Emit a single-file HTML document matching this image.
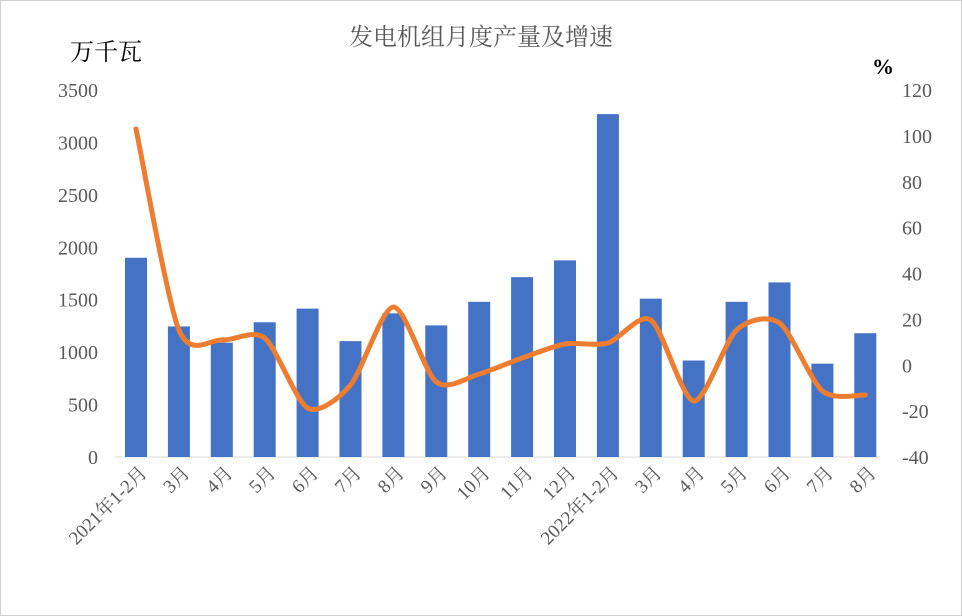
<!DOCTYPE html>
<html><head><meta charset="utf-8"><style>
html,body{margin:0;padding:0;background:#fff;}
svg{display:block;}
text{font-family:"Liberation Serif","Noto Serif CJK SC","Noto Sans CJK SC",serif;}
</style></head><body>
<svg id="s" width="962" height="616" xmlns="http://www.w3.org/2000/svg">
<rect x="0.5" y="0.5" width="961" height="615" fill="#fff" stroke="#d0d0d0"/>
<text x="481" y="45" font-size="24" fill="#595959" text-anchor="middle">发电机组月度产量及增速</text>
<text x="70" y="60" font-size="24" fill="#000">万千瓦</text>
<text x="872" y="74" font-size="22" font-weight="bold" fill="#000">%</text>
<line x1="115" y1="457" x2="880" y2="457" stroke="#d9d9d9"/>
<g id="g"></g>
</svg>
<script>
var ns="http://www.w3.org/2000/svg",g=document.getElementById('g');
function el(t,a,txt){var e=document.createElementNS(ns,t);for(var k in a)e.setAttribute(k,a[k]);if(txt!=null)e.textContent=txt;g.appendChild(e);return e;}
for(var i=0;i<=7;i++){var y=457-i*52.43;el('text',{x:98,y:y+7,'font-size':20,fill:'#595959','text-anchor':'end'},i*500);}
for(var i=0;i<=8;i++){var y=457-i*45.875;el('text',{x:902,y:y+7,'font-size':20,fill:'#595959'},-40+i*20);}
var v=[1900,1245,1090,1285,1415,1105,1370,1255,1480,1715,1875,3270,1510,920,1480,1665,890,1180];
var lab=['2021年1-2月','3月','4月','5月','6月','7月','8月','9月','10月','11月','12月','2022年1-2月','3月','4月','5月','6月','7月','8月'];
var ly=[129,330,340,338,408,385,307,382,374,358,344,343,320,401,330,323,391,395];
var sp=42.9,pts=[];
for(var i=0;i<18;i++){var cx=136+sp*i,h=v[i]*52.43/500;
el('rect',{x:cx-11,y:457-h,width:22,height:h,fill:'#4472c4'});
var tx=cx+12,ty=474;
el('text',{x:tx,y:ty,'font-size':19,fill:'#595959','text-anchor':'end',transform:'rotate(-45 '+tx+' '+ty+')'},lab[i]);
pts.push([cx,ly[i]]);}
var d='M'+pts[0][0]+','+pts[0][1];
for(var i=0;i<pts.length-1;i++){var p0=pts[Math.max(i-1,0)],p1=pts[i],p2=pts[i+1],p3=pts[Math.min(i+2,pts.length-1)];
var k=7.5;
var c1=[p1[0]+(p2[0]-p0[0])/k,p1[1]+(p2[1]-p0[1])/k],c2=[p2[0]-(p3[0]-p1[0])/k,p2[1]-(p3[1]-p1[1])/k];
d+=' C'+c1+' '+c2+' '+p2;}
el('path',{d:d,fill:'none',stroke:'#ed7d31','stroke-width':5,'stroke-linecap':'round','stroke-linejoin':'round'});
</script>
</body></html>
